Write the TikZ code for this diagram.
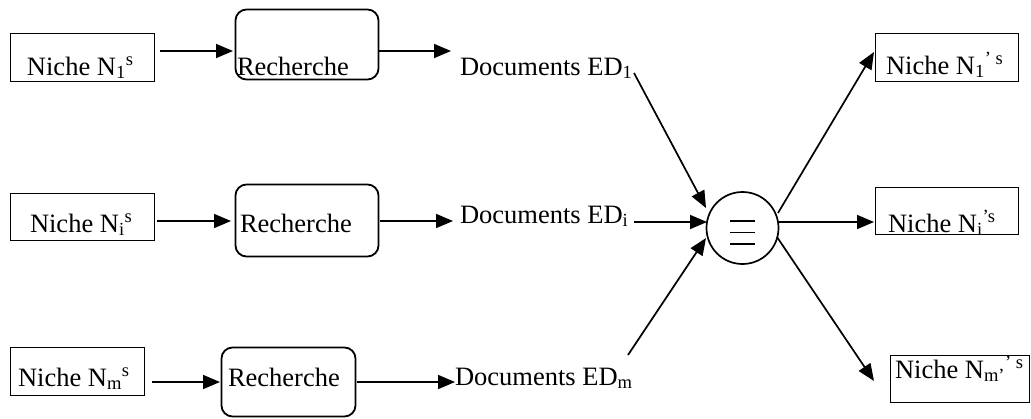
\documentclass[tikz,border=0pt]{standalone}
\usepackage{fontspec}
\setmainfont{Liberation Serif}
\usetikzlibrary{arrows.meta}
\begin{document}
\begin{tikzpicture}[x=1pt,y=-1pt,
  every node/.style={inner sep=0pt,outer sep=0pt},
  lbl/.style={anchor=base west,font=\fontsize{26.5}{30}\selectfont},
  nbox/.style={draw,line width=1.8pt,rectangle},
  rbox/.style={draw,line width=1.8pt,rectangle,rounded corners=11pt},
  arr/.style={line width=1.7pt,-{Triangle[length=17pt,width=14pt]}},
  eqline/.style={line width=1.8pt}]
\useasboundingbox (0,0) rectangle (1031,418);
% boxes
\node[nbox,minimum width=144pt,minimum height=48pt] (n1) at (82.5,57.5) {};
\node[rbox,minimum width=143pt,minimum height=70pt] (r1) at (307,44.5) {};
\node[nbox,minimum width=144pt,minimum height=47pt] (n2) at (82.5,217) {};
\node[rbox,minimum width=143pt,minimum height=72pt] (r2) at (307,220.5) {};
\node[nbox,minimum width=134pt,minimum height=48pt] (n3) at (77.5,371.5) {};
\node[rbox,minimum width=134pt,minimum height=69pt] (r3) at (288.5,382) {};
\node[nbox,minimum width=143pt,minimum height=48pt] (o1) at (947,57.5) {};
\node[nbox,minimum width=143pt,minimum height=47pt] (o2) at (947,211) {};
\node[nbox,minimum width=139pt,minimum height=47pt] (o3) at (960,379) {};
\node[draw,circle,line width=1.7pt,minimum size=72pt] (eq) at (742.5,228) {};
% equivalence sign
\draw[eqline] (730,221) -- (755,221);
\draw[eqline] (730,232.5) -- (755,232.5);
\draw[eqline] (730,244) -- (755,244);
% labels
\node[lbl] (tn1) at (27,75) {Niche N\textsubscript{1}\textsuperscript{s}};
\node[lbl] (tr1) at (237,75) {Recherche};
\node[lbl] (d1) at (460,75) {Documents ED\textsubscript{1}};
\node[lbl] (tn2) at (30,232) {Niche N\textsubscript{i}\textsuperscript{s}};
\node[lbl] (tr2) at (240,232) {Recherche};
\node[lbl] (d2) at (460,223) {Documents ED\textsubscript{i}};
\node[lbl] (tn3) at (18,386) {Niche N\textsubscript{m}\textsuperscript{s}};
\node[lbl] (tr3) at (228,386) {Recherche};
\node[lbl] (d3) at (455,385) {Documents ED\textsubscript{m}};
\node[lbl] (to1) at (886,74) {Niche N\textsubscript{1}\textsuperscript{’ s}};
\node[lbl] (to2) at (888,232) {Niche N\textsubscript{i}\textsuperscript{’s}};
\node[lbl] (to3) at (895,378) {Niche N\textsubscript{m’}\textsuperscript{’ s}};
% arrow end points
\coordinate (a1s) at (160,51);  \coordinate (a1e) at (233,51);
\coordinate (b1s) at (379,51);  \coordinate (b1e) at (451,51);
\coordinate (a2s) at (157,221); \coordinate (a2e) at (231,221);
\coordinate (b2s) at (380,221); \coordinate (b2e) at (453,221);
\coordinate (a3s) at (152,382); \coordinate (a3e) at (220,382);
\coordinate (b3s) at (357,382); \coordinate (b3e) at (455,382);
\coordinate (c1s) at (634,73);  \coordinate (c1e) at (706,208);
\coordinate (c2s) at (634,222); \coordinate (c2e) at (707,222);
\coordinate (c3s) at (628,355); \coordinate (c3e) at (706,238);
\coordinate (e1s) at (778,213); \coordinate (e1e) at (874,52);
\coordinate (e2s) at (779,222); \coordinate (e2e) at (874,222);
\coordinate (e3s) at (777,237); \coordinate (e3e) at (874,381);
% connectors
\draw[arr] (a1s) -- (a1e);
\draw[arr] (b1s) -- (b1e);
\draw[arr] (a2s) -- (a2e);
\draw[arr] (b2s) -- (b2e);
\draw[arr] (a3s) -- (a3e);
\draw[arr] (b3s) -- (b3e);
\draw[arr] (c1s) -- (c1e);
\draw[arr] (c2s) -- (c2e);
\draw[arr] (c3s) -- (c3e);
\draw[arr] (e1s) -- (e1e);
\draw[arr] (e2s) -- (e2e);
\draw[arr] (e3s) -- (e3e);
\end{tikzpicture}
\end{document}
